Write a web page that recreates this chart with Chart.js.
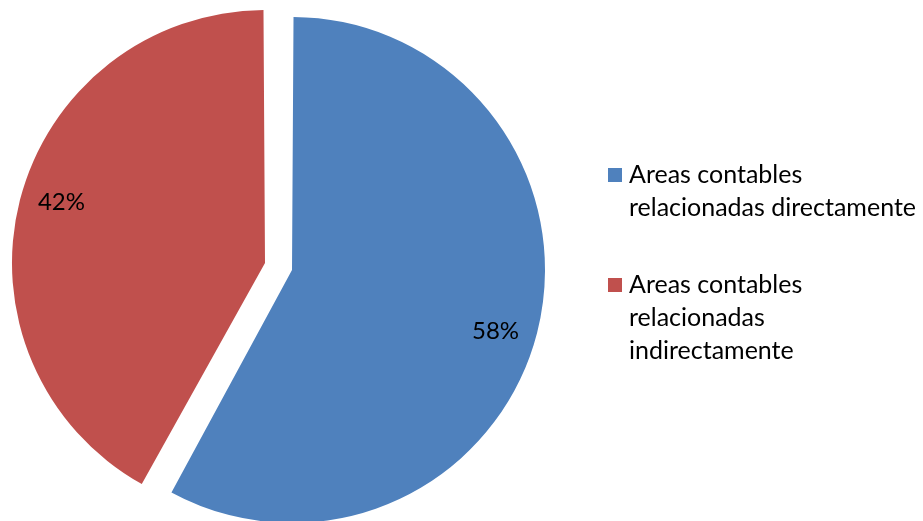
<!DOCTYPE html>
<html>
<head>
<meta charset="utf-8">
<script src="https://cdn.jsdelivr.net/npm/chart.js@4"></script>
<style>
  html, body { margin: 0; padding: 0; background: #fff; }
  #wrap { position: relative; width: 923px; height: 521px; overflow: hidden; }
  #legend { position: absolute; left: 608px; top: 0; font-family: Lato, "Open Sans", sans-serif; font-size: 25px; line-height: 33px; color: #000; }
  .item { position: absolute; left: 0; white-space: nowrap; }
  .box { position: absolute; left: 0; width: 14px; height: 14px; }
  .txt { position: absolute; left: 21px; top: 0; }
</style>
</head>
<body>
<div id="wrap">
  <canvas id="pie"></canvas>
  <div id="legend"></div>
</div>
<script>
const categories = [
  ['Areas contables', 'relacionadas directamente'],
  ['Areas contables', 'relacionadas', 'indirectamente']
];
const values = [58, 42];
const colors = ['#4f81bd', '#c0504d'];
// blue and red are pulled apart by different offsets so both keep the same radius
const offsets = [38, 73.5];

const pctLabels = {
  id: 'pctLabels',
  afterDatasetsDraw(chart) {
    const ctx = chart.ctx;
    const meta = chart.getDatasetMeta(0);
    const total = values.reduce((a, b) => a + b, 0);
    ctx.save();
    ctx.font = '24px Lato, "Open Sans", sans-serif';
    ctx.fillStyle = '#000';
    ctx.textAlign = 'center';
    ctx.textBaseline = 'middle';
    meta.data.forEach((arc, i) => {
      const p = arc.getProps(['x', 'y', 'startAngle', 'endAngle', 'outerRadius'], true);
      const off = (arc.options.offset || 0) / 4;
      const mid = (p.startAngle + p.endAngle) / 2;
      const fix = 1 - Math.sin(Math.min(Math.PI, p.endAngle - p.startAngle));
      const r = p.outerRadius + off * fix;
      const cx = p.x + Math.cos(mid) * off;
      const cy = p.y + Math.sin(mid) * off;
      const a = mid + 0.04;
      ctx.fillText(Math.round(values[i] / total * 100) + '%', cx + Math.cos(a) * r * 0.84, cy + Math.sin(a) * r * 0.84);
    });
    ctx.restore();
  }
};

new Chart(document.getElementById('pie'), {
  type: 'pie',
  data: {
    labels: categories,
    datasets: [{
      data: values,
      backgroundColor: colors,
      borderWidth: 0,
      offset: offsets,
      hoverOffset: 0,
      radius: 243.5,
      clip: false
    }]
  },
  options: {
    responsive: true,
    maintainAspectRatio: false,
    animation: false,
    layout: { padding: { left: 0, right: 357.4, top: 14.2, bottom: 0 } },
    plugins: { legend: { display: false }, tooltip: { enabled: false } }
  },
  plugins: [pctLabels]
});

// legend beside the pie
const legend = document.getElementById('legend');
const tops = [157, 267];
categories.forEach((lines, i) => {
  const item = document.createElement('div');
  item.className = 'item';
  item.style.top = tops[i] + 'px';
  item.innerHTML = '<div class="box" style="top:11px;background:' + colors[i] + '"></div>' +
    '<div class="txt">' + lines.join('<br>') + '</div>';
  legend.appendChild(item);
});
</script>
</body>
</html>
